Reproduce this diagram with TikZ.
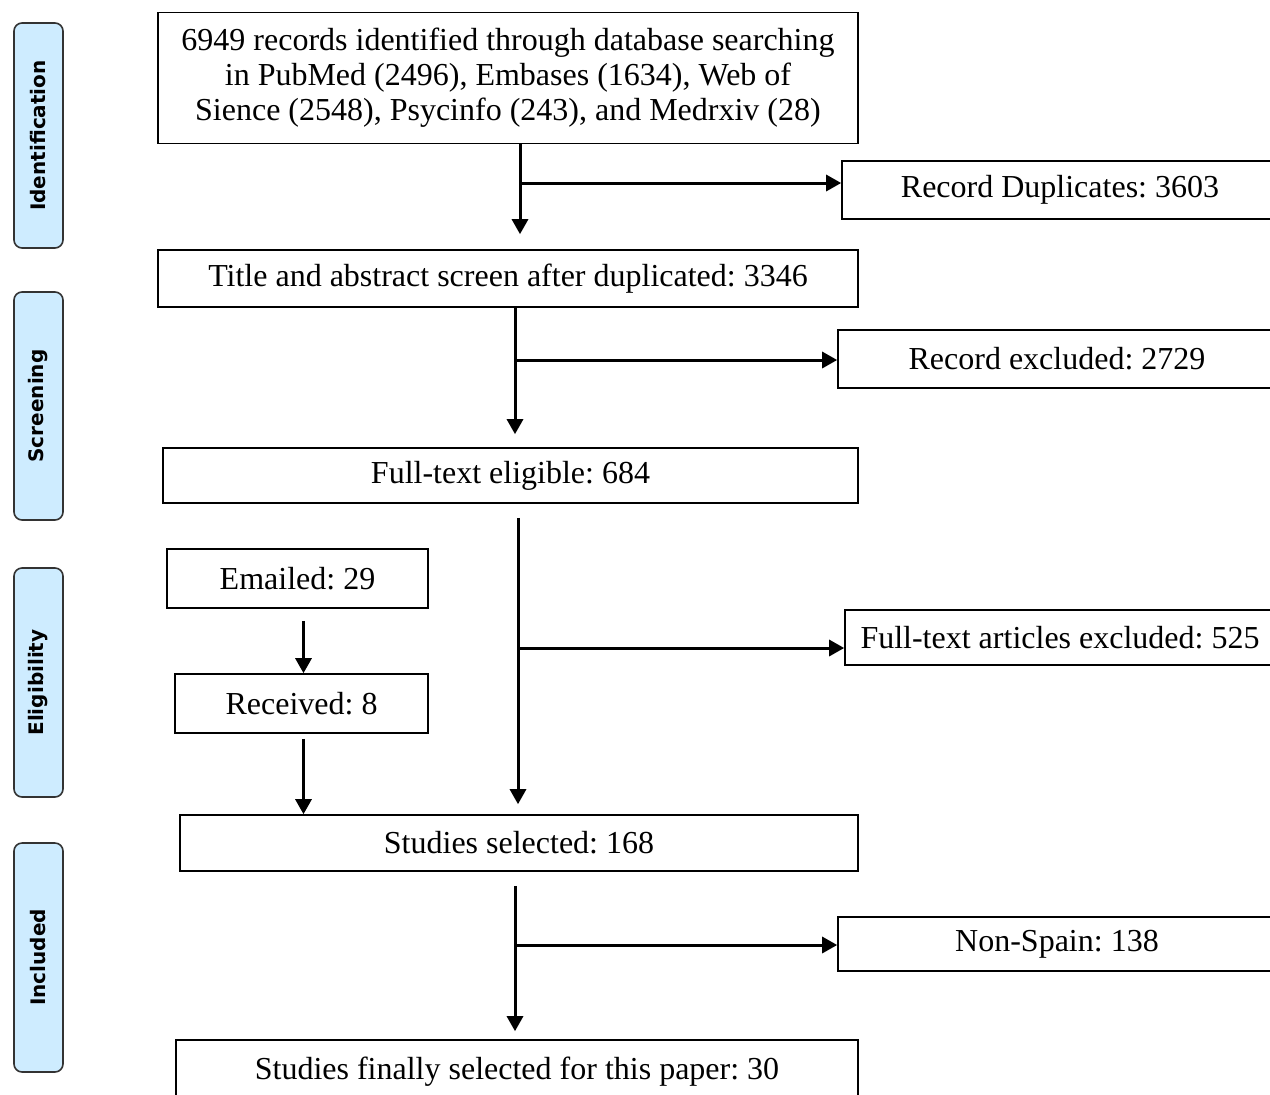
\documentclass[tikz,border=0pt]{standalone}
\usepackage{fontspec}
\setmainfont{Liberation Serif}
\newfontfamily\phasefont{DejaVu Sans}
\usetikzlibrary{arrows.meta}
\frenchspacing
\definecolor{phaseblue}{RGB}{206,236,255}
\tikzstyle{box}=[rectangle, draw=black, line width=0.8pt, align=center, inner sep=0pt, font=\fontsize{16}{17.5}\selectfont]
\tikzstyle{phase}=[rectangle, rounded corners=4pt, draw=black!80, line width=0.8pt, fill=phaseblue, inner sep=0pt, rotate=90, minimum height=24.5pt, font=\fontsize{10}{12}\phasefont\bfseries]
\tikzstyle{flow}=[line width=1.5pt, -{Triangle[length=7.5pt,width=8pt]}]

\begin{document}
\begin{tikzpicture}[x=0.5pt, y=-0.5pt]
	\useasboundingbox (0,0) rectangle (1270,1094);
	\clip (0,0) rectangle (1270,1094);

	% phases on the left
	\node[phase, minimum width=112.5pt](ident) at (38.5,135.5){Identification};
	\node[phase, minimum width=114pt](screen) at (38.5,406){Screening};
	\node[phase, minimum width=114.5pt](elig) at (38.5,682.5){Eligibility};
	\node[phase, minimum width=114.5pt](incl) at (38.5,957.5){Included};

	% main column
	\node[box, minimum width=350pt, minimum height=65.5pt](records) at (508,78){6949 records identified through database searching\\in PubMed (2496), Embases (1634), Web of\\Sience (2548), Psycinfo (243), and Medrxiv (28)};
	\node[box, minimum width=350pt, minimum height=28.5pt](title) at (508,278.5){Title and abstract screen after duplicated: 3346};
	\node[box, minimum width=347.5pt, minimum height=27.5pt](fulltext) at (510.5,475.5){Full-text eligible: 684};
	\node[box, minimum width=339pt, minimum height=28pt](studies) at (519,843){Studies selected: 168};
	\node[box, minimum width=341pt, minimum height=32pt](final) at (517,1072){Studies finally selected for this paper: 30};

	% side column
	\node[box, minimum width=218pt, minimum height=29pt](dup) at (1060,190){Record Duplicates: 3603};
	\node[box, minimum width=219pt, minimum height=29pt](excl) at (1057,359){Record excluded: 2729};
	\node[box, minimum width=215pt, minimum height=27.5pt](ftexcl) at (1060,637.5){Full-text articles excluded: 525};
	\node[box, minimum width=219pt, minimum height=27pt](nonspain) at (1057,944){Non-Spain: 138};

	% emailed authors
	\node[box, minimum width=130.5pt, minimum height=29.5pt](emailed) at (297.5,578.5){Emailed: 29};
	\node[box, minimum width=126.5pt, minimum height=29.5pt](received) at (301.5,703.5){Received: 8};

	\coordinate (b1) at (520,183);
	\coordinate (b2) at (515,360);
	\coordinate (b3) at (518,648);
	\coordinate (b4) at (515,945);
	\coordinate (e1) at (303.5,0);

	\draw[flow] (records.south -| b1) -- ([yshift=7.5pt]title.north -| b1);
	\draw[flow] (b1) -- (b1 -| dup.west);
	\draw[flow] (title.south -| b2) -- ([yshift=6.5pt]fulltext.north -| b2);
	\draw[flow] (b2) -- (b2 -| excl.west);
	\draw[flow] ([yshift=-7pt]fulltext.south -| b3) -- ([yshift=5pt]studies.north -| b3);
	\draw[flow] (b3) -- (b3 -| ftexcl.west);
	\draw[flow] ([yshift=-7pt]studies.south -| b4) -- ([yshift=4pt]final.north -| b4);
	\draw[flow] (b4) -- (b4 -| nonspain.west);
	\draw[flow] ([yshift=-6pt]emailed.south -| e1) -- (received.north -| e1);
	\draw[flow] ([yshift=-2.5pt]received.south -| e1) -- (studies.north -| e1);

\end{tikzpicture}
\end{document}
